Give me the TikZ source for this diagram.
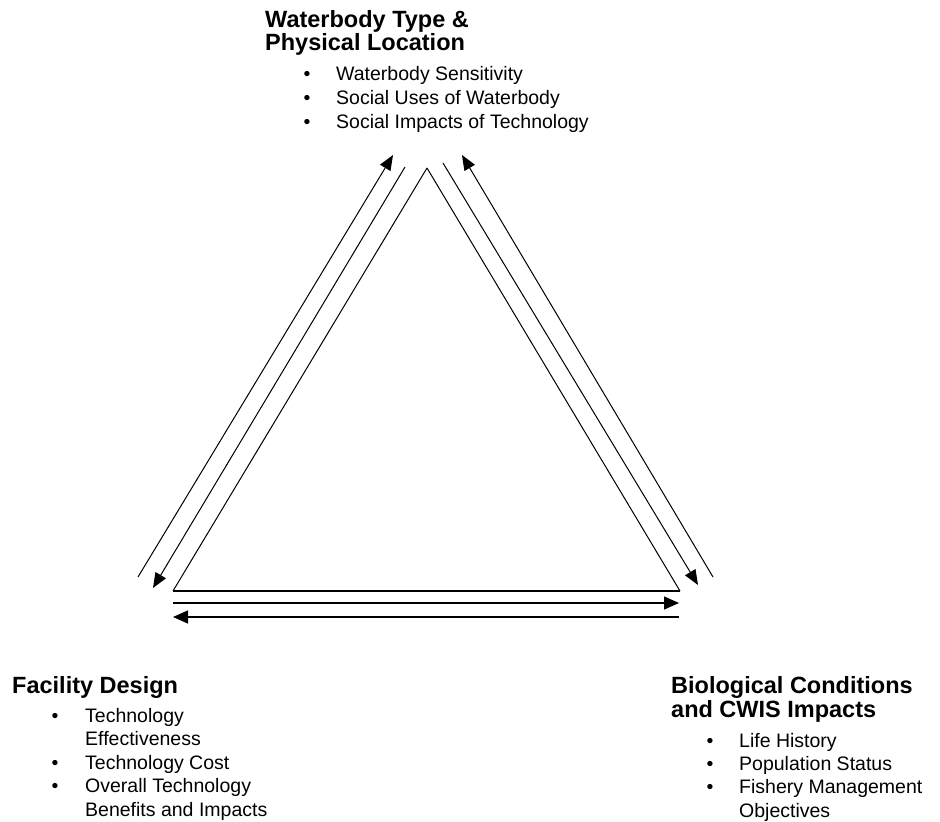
\documentclass[tikz,border=0pt]{standalone}
\usepackage{fontspec}
\setmainfont{Liberation Sans}
\usetikzlibrary{arrows.meta}
\begin{document}
\begin{tikzpicture}[x=1pt,y=-1pt,
  hd/.style={anchor=base west, inner sep=0pt, font=\fontsize{23.5}{27}\selectfont\bfseries},
  itm/.style={anchor=base west, inner sep=0pt, font=\fontsize{19.5}{23}\selectfont},
  bul/.style={anchor=base, inner sep=0pt, font=\fontsize{19.5}{23}\selectfont},
  tri/.style={line width=1pt, line join=miter},
  arr/.style={line width=1pt, -{Triangle[length=15pt,width=12pt]}},
  harr/.style={line width=1.4pt, -{Triangle[length=15pt,width=13pt]}},
  hline/.style={line width=1.4pt}
]
\useasboundingbox (0,0) rectangle (940,822);

% triangle corners
\coordinate (A) at (427,168);
\coordinate (B) at (173,591);
\coordinate (C) at (680,591);
\draw[tri] (A) -- (B);
\draw[tri] (A) -- (C);
\draw[hline] (B) -- (C);

% left side arrows
\coordinate (Lo1) at (138,577);
\coordinate (Lo2) at (393,155);
\coordinate (Lm1) at (405,167);
\coordinate (Lm2) at (153,588);
\draw[arr] (Lo1) -- (Lo2);
\draw[arr] (Lm1) -- (Lm2);

% right side arrows
\coordinate (Rm1) at (443,163);
\coordinate (Rm2) at (698,585);
\coordinate (Ro1) at (713,577);
\coordinate (Ro2) at (462,155);
\draw[arr] (Rm1) -- (Rm2);
\draw[arr] (Ro1) -- (Ro2);

% bottom arrows
\coordinate (Ba1) at (173,603);
\coordinate (Ba2) at (679,603);
\coordinate (Bb1) at (679,617);
\coordinate (Bb2) at (173,617);
\draw[harr] (Ba1) -- (Ba2);
\draw[harr] (Bb1) -- (Bb2);

% top block
\node[hd] (wt1) at (265,27) {Waterbody Type \&};
\node[hd] (wt2) at (265,50) {Physical Location};
\node[bul] (wb1) at (307,80) {•};
\node[itm] (wi1) at (336,80) {Waterbody Sensitivity};
\node[bul] (wb2) at (307,104) {•};
\node[itm] (wi2) at (336,104) {Social Uses of Waterbody};
\node[bul] (wb3) at (307,128) {•};
\node[itm] (wi3) at (336,128) {Social Impacts of Technology};

% left block
\node[hd] (ft) at (12,693) {Facility Design};
\node[bul] (fb1) at (55,722) {•};
\node[itm] (fi1) at (85,722) {Technology};
\node[itm] (fi1b) at (85,745) {Effectiveness};
\node[bul] (fb2) at (55,769) {•};
\node[itm] (fi2) at (85,769) {Technology Cost};
\node[bul] (fb3) at (55,792) {•};
\node[itm] (fi3) at (85,792) {Overall Technology};
\node[itm] (fi3b) at (85,816) {Benefits and Impacts};

% right block
\node[hd] (bt1) at (671,693) {Biological Conditions};
\node[hd] (bt2) at (671,717) {and CWIS Impacts};
\node[bul] (bb1) at (710,747) {•};
\node[itm] (bi1) at (739,747) {Life History};
\node[bul] (bb2) at (710,770) {•};
\node[itm] (bi2) at (739,770) {Population Status};
\node[bul] (bb3) at (710,793) {•};
\node[itm] (bi3) at (739,793) {Fishery Management};
\node[itm] (bi3b) at (739,817) {Objectives};
\end{tikzpicture}
\end{document}
